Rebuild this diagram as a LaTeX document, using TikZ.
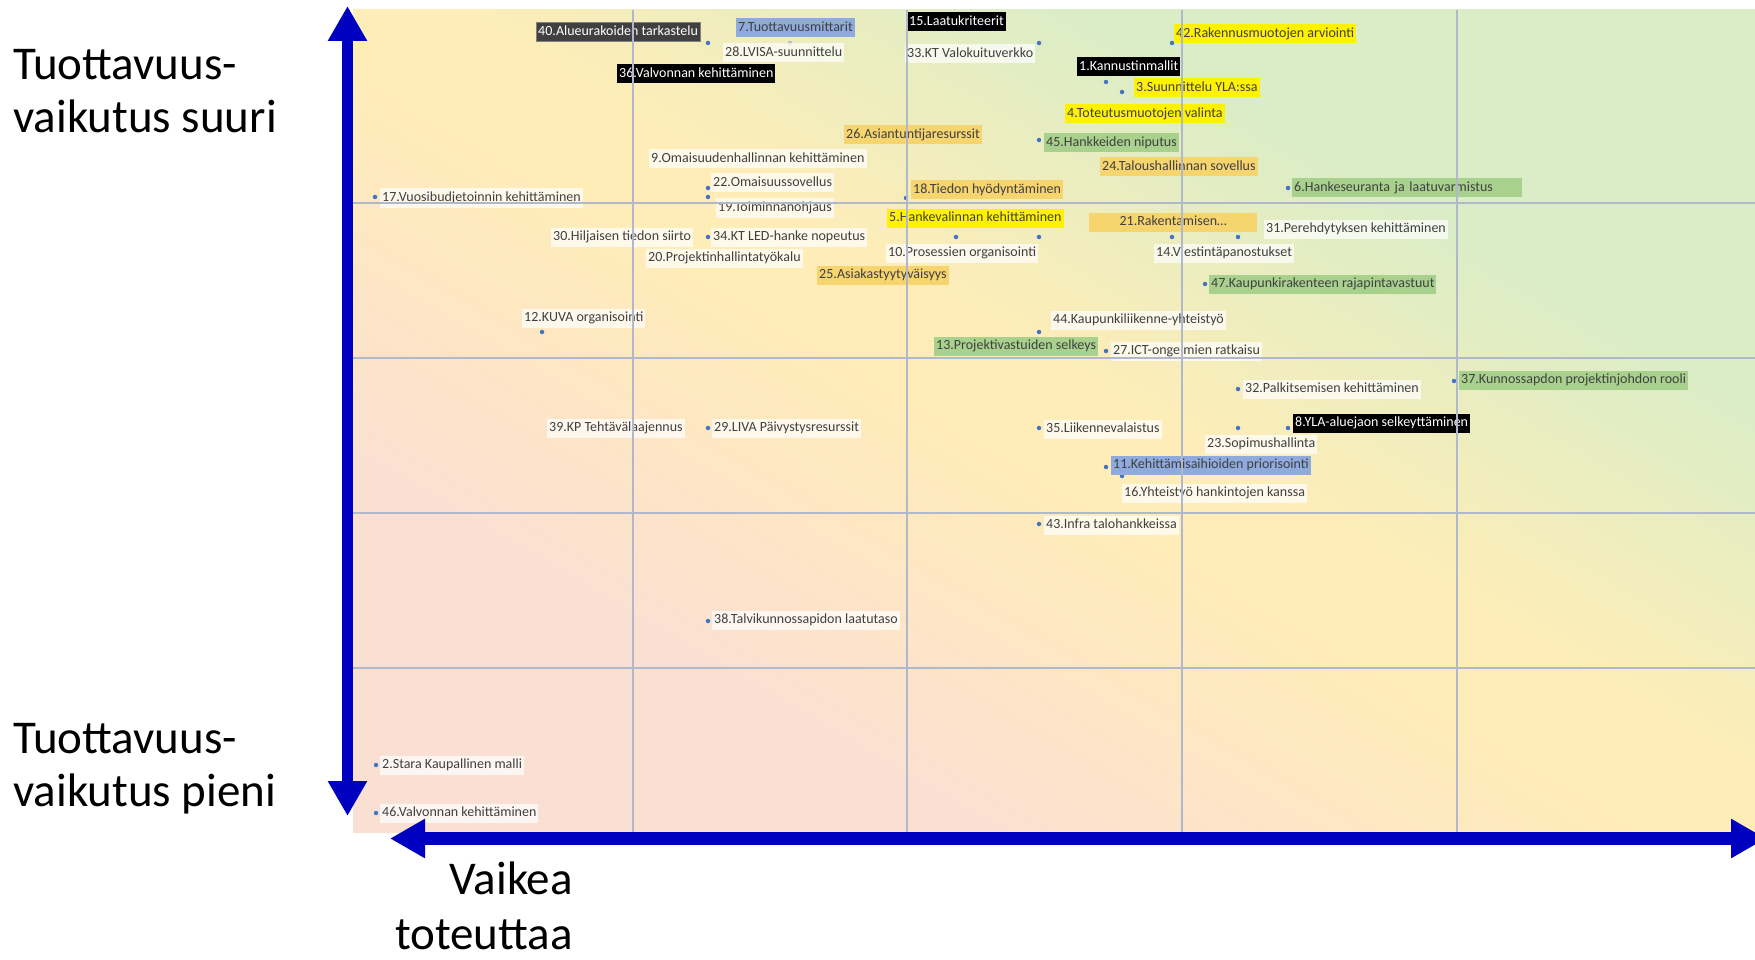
\documentclass[tikz,border=0pt]{standalone}
\usepackage{fontspec}
\setmainfont{Carlito}
\usepackage{tikz}
\usetikzlibrary{arrows.meta}
\definecolor{bgpeach}{RGB}{250,224,210}
\definecolor{bgyellow}{RGB}{255,237,184}
\definecolor{bggreen}{RGB}{218,237,198}
\definecolor{gridgray}{RGB}{176,184,204}
\definecolor{axisblue}{RGB}{0,0,192}
\definecolor{dotblue}{RGB}{68,114,196}
\definecolor{txtgray}{RGB}{64,64,64}
\definecolor{lblorange}{RGB}{246,212,110}
\definecolor{lblgreen}{RGB}{169,209,142}
\definecolor{lblblue}{RGB}{143,170,220}
\pgfdeclareverticalshading{matrixbg}{100bp}{color(0bp)=(bgpeach); color(31bp)=(bgpeach); color(48bp)=(bgyellow); color(52bp)=(bgyellow); color(68bp)=(bggreen); color(100bp)=(bggreen)}

\begin{document}
\begin{tikzpicture}[x=1pt, y=-1pt,
	itemdot/.style={circle, fill=dotblue, inner sep=0pt, minimum size=4.5pt},
	lbl/.style={anchor=west, font=\fontsize{14}{16}\selectfont, text=txtgray, inner xsep=2pt, inner ysep=3pt, text height=10pt, text depth=3pt},
	plainlbl/.style={lbl, fill=white, fill opacity=0.7, text opacity=1},
	yellowlbl/.style={lbl, fill=yellow},
	orangelbl/.style={lbl, fill=lblorange},
	greenlbl/.style={lbl, fill=lblgreen},
	bluelbl/.style={lbl, fill=lblblue},
	blacklbl/.style={lbl, fill=black, text=white},
	darklbl/.style={lbl, fill=txtgray, draw=gray, text=white},
	axislbl/.style={font=\fontsize{47}{53}\selectfont, inner sep=0pt},
	gridline/.style={draw=gridgray, line width=1.2pt},
	axisarrow/.style={draw=axisblue, {Triangle[length=35pt,width=37pt]}-{Triangle[length=35pt,width=37pt]}}]
	\useasboundingbox (0,0) rectangle (1755,960);
	\shade[shading=matrixbg, shading angle=-30.4] (353,10) rectangle (1755,832);

	\begin{scope}[every node/.style={itemdot}]
		\node (p40) at (708,43) {};
		\node[opacity=0.35] (p7) at (790,43) {};
		\node (p33) at (1039,43) {};
		\node (p42) at (1172,43) {};
		\node (p1) at (1106,82) {};
		\node (p3) at (1122,92) {};
		\node (p45) at (1039,140) {};
		\node (p24) at (1106,159) {};
		\node (p22) at (708,188) {};
		\node (p19) at (708,197) {};
		\node (p17) at (375,197) {};
		\node (p18) at (906,198) {};
		\node (p6) at (1288,188) {};
		\node (p34) at (708,237) {};
		\node (p10) at (956,237) {};
		\node (p5) at (1039,237) {};
		\node (p14) at (1172,237) {};
		\node (p31) at (1238,237) {};
		\node (p47) at (1205,284) {};
		\node (p12) at (542,332) {};
		\node (p44) at (1039,332) {};
		\node (p27) at (1106,351) {};
		\node (p37) at (1454,381) {};
		\node (p32) at (1238,389) {};
		\node (p8) at (1288,428) {};
		\node (p29) at (708,428) {};
		\node (p35) at (1039,428) {};
		\node (p23) at (1238,428) {};
		\node (p11) at (1106,467) {};
		\node (p16) at (1122,476) {};
		\node (p43) at (1039,524) {};
		\node (p38) at (708,621) {};
		\node (p2) at (376,765) {};
		\node (p46) at (376,813) {};
	\end{scope}

	\node[darklbl] (t40) at (536,32) {40.Alueurakoiden tarkastelu};
	\node[bluelbl] (t7) at (736,28) {7.Tuottavuusmittarit};
	\node[plainlbl] (t28) at (723,53) {28.LVISA-suunnittelu};
	\node[blacklbl] (t36) at (617,74) {36.Valvonnan kehittäminen};
	\node[blacklbl] (t15) at (907,22) {15.Laatukriteerit};
	\node[plainlbl] (t33) at (905,54) {33.KT Valokuituverkko};
	\node[yellowlbl] (t42) at (1174,34) {42.Rakennusmuotojen arviointi};
	\node[blacklbl] (t1) at (1077,67) {1.Kannustinmallit};
	\node[yellowlbl] (t3) at (1134,88) {3.Suunnittelu YLA:ssa};
	\node[yellowlbl] (t4) at (1065,114) {4.Toteutusmuotojen valinta};
	\node[orangelbl] (t26) at (844,135) {26.Asiantuntijaresurssit};
	\node[greenlbl] (t45) at (1044,143) {45.Hankkeiden niputus};
	\node[orangelbl] (t24) at (1100,167) {24.Taloushallinnan sovellus};
	\node[plainlbl] (t9) at (649,159) {9.Omaisuudenhallinnan kehittäminen};
	\node[plainlbl] (t22) at (711,183) {22.Omaisuussovellus};
	\node[plainlbl] (t19) at (716,208) {19.Toiminnanohjaus};
	\node[plainlbl] (t17) at (380,198) {17.Vuosibudjetoinnin kehittäminen};
	\node[orangelbl] (t18) at (911,190) {18.Tiedon hyödyntäminen};
	\node[greenlbl, text width=226pt, align=left] (t6) at (1292,188) {6.Hankeseuranta ja laatuvarmistus};
	\node[yellowlbl] (t5) at (887,218) {5.Hankevalinnan kehittäminen};
	\node[orangelbl, minimum width=168pt] (t21) at (1089,222) {21.Rakentamisen…};
	\node[plainlbl] (t30) at (551,237) {30.Hiljaisen tiedon siirto};
	\node[plainlbl] (t34) at (711,237) {34.KT LED-hanke nopeutus};
	\node[plainlbl] (t31) at (1264,229) {31.Perehdytyksen kehittäminen};
	\node[plainlbl] (t10) at (886,253) {10.Prosessien organisointi};
	\node[plainlbl] (t14) at (1154,253) {14.Viestintäpanostukset};
	\node[plainlbl] (t20) at (646,258) {20.Projektinhallintatyökalu};
	\node[orangelbl] (t25) at (817,275) {25.Asiakastyytyväisyys};
	\node[greenlbl] (t47) at (1209,284) {47.Kaupunkirakenteen rajapintavastuut};
	\node[plainlbl] (t12) at (522,318) {12.KUVA organisointi};
	\node[plainlbl] (t44) at (1051,320) {44.Kaupunkiliikenne-yhteistyö};
	\node[greenlbl] (t13) at (934,346) {13.Projektivastuiden selkeys};
	\node[plainlbl] (t27) at (1111,351) {27.ICT-ongelmien ratkaisu};
	\node[greenlbl] (t37) at (1459,380) {37.Kunnossapdon projektinjohdon rooli};
	\node[plainlbl] (t32) at (1243,389) {32.Palkitsemisen kehittäminen};
	\node[blacklbl] (t8) at (1293,423) {8.YLA-aluejaon selkeyttäminen};
	\node[plainlbl] (t39) at (547,428) {39.KP Tehtävälaajennus};
	\node[plainlbl] (t29) at (712,428) {29.LIVA Päivystysresurssit};
	\node[plainlbl] (t35) at (1044,429) {35.Liikennevalaistus};
	\node[plainlbl] (t23) at (1205,444) {23.Sopimushallinta};
	\node[bluelbl] (t11) at (1111,465) {11.Kehittämisaihioiden priorisointi};
	\node[plainlbl] (t16) at (1122,493) {16.Yhteistyö hankintojen kanssa};
	\node[plainlbl] (t43) at (1044,525) {43.Infra talohankkeissa};
	\node[plainlbl] (t38) at (712,620) {38.Talvikunnossapidon laatutaso};
	\node[plainlbl] (t2) at (380,765) {2.Stara Kaupallinen malli};
	\node[plainlbl] (t46) at (380,813) {46.Valvonnan kehittäminen};

	\foreach \gx in {633,907,1182,1457}{\draw[gridline] (\gx,10) -- (\gx,832);}
	\foreach \gy in {203,358,513,668}{\draw[gridline] (353,\gy) -- (1755,\gy);}

	\coordinate (vtop) at (347.5,6);
	\coordinate (vbot) at (347.5,816);
	\coordinate (hleft) at (390,838.5);
	\coordinate (hright) at (1766,838.5);
	\draw[axisarrow, line width=11.5pt] (vtop) -- (vbot);
	\draw[axisarrow, line width=13pt] (hleft) -- (hright);

	\node[axislbl, anchor=north west, align=left] (high) at (13,49) {Tuottavuus-\\vaikutus suuri};
	\node[axislbl, anchor=north west, align=left] (low) at (13,723) {Tuottavuus-\\vaikutus pieni};
	\node[axislbl, font=\fontsize{47}{55}\selectfont, anchor=north east, align=right] (hard) at (573,862) {Vaikea\\toteuttaa};
\end{tikzpicture}
\end{document}
